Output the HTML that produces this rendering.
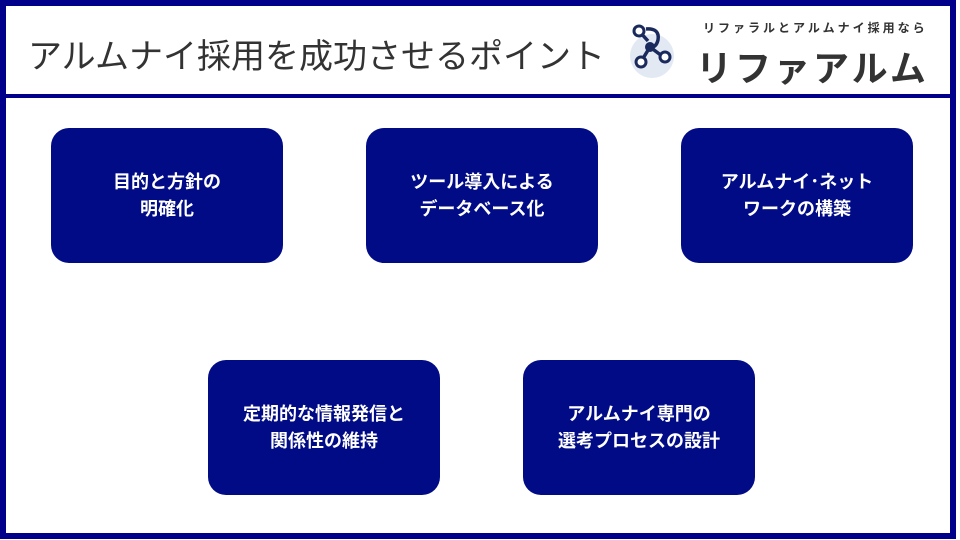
<!DOCTYPE html>
<html><head><meta charset="utf-8"><style>
body{margin:0;width:960px;height:540px;background:#fff;position:relative;overflow:hidden;font-family:"Liberation Sans","Noto Sans CJK JP",sans-serif}
.frame{position:absolute;left:0;top:0;width:944px;height:527px;border:6px solid #00008b}
.div{position:absolute;left:0;top:94px;width:956px;height:4px;background:#00008b}
.title{position:absolute;left:28px;top:29px;font-size:34px;color:#333;white-space:nowrap}
.box{position:absolute;width:232px;height:135px;background:#000b85;border-radius:18px;color:#fff;font-weight:bold;font-size:18px;line-height:27px;display:flex;align-items:center;justify-content:center;text-align:center}
.sub{position:absolute;left:703px;top:19px;font-size:12px;color:#333;letter-spacing:3px;font-weight:bold;white-space:nowrap}
.big{position:absolute;left:696px;top:40px;font-size:36px;color:#333;font-weight:bold;letter-spacing:3px;white-space:nowrap}
</style></head><body>
<div class="frame"></div>
<div class="div"></div>
<div class="title">アルムナイ採用を成功させるポイント</div>
<svg style="position:absolute;left:620px;top:20px" width="70" height="62">
<circle cx="32" cy="36" r="22" fill="#e3e9f3"/>
<path d="M19 11 L28 21 M26 9 Q40 8 38 20 Q36 28 30 27 M30 27 L22 40 M30 27 L42 36" stroke="#1b2a5c" stroke-width="3.5" fill="none"/>
<circle cx="19" cy="11" r="5" fill="#fff" stroke="#1b2a5c" stroke-width="3"/>
<circle cx="30" cy="27" r="5" fill="#1b2a5c"/>
<circle cx="21" cy="42" r="5" fill="#fff" stroke="#1b2a5c" stroke-width="3"/>
<circle cx="45" cy="37" r="5" fill="#fff" stroke="#1b2a5c" stroke-width="3"/>
</svg>
<div class="sub">リファラルとアルムナイ採用なら</div>
<div class="big">リファアルム</div>
<div class="box" style="left:51px;top:128px">目的と方針の<br>明確化</div>
<div class="box" style="left:366px;top:128px">ツール導入による<br>データベース化</div>
<div class="box" style="left:681px;top:128px">アルムナイ･ネット<br>ワークの構築</div>
<div class="box" style="left:208px;top:360px">定期的な情報発信と<br>関係性の維持</div>
<div class="box" style="left:523px;top:360px">アルムナイ専門の<br>選考プロセスの設計</div>
</body></html>
